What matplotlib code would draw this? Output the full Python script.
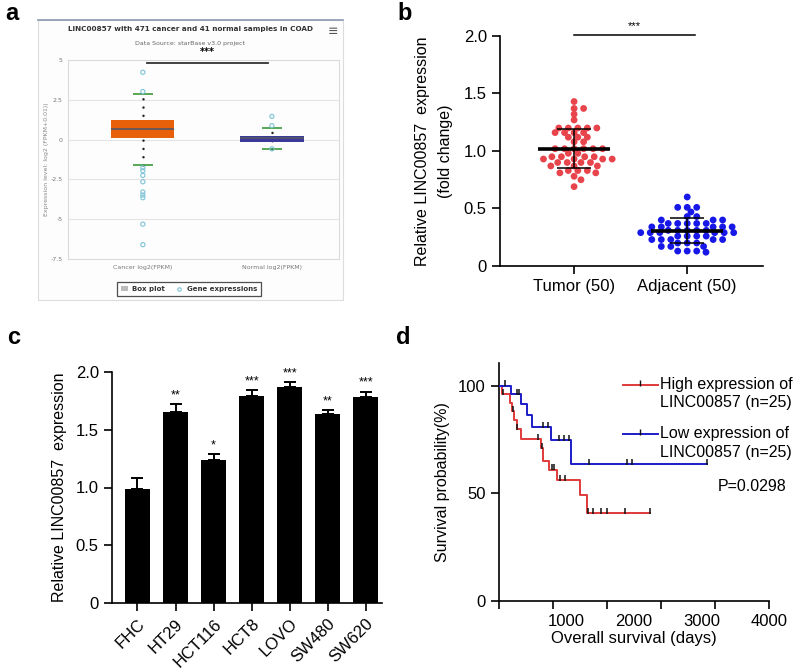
import numpy as np
import matplotlib
matplotlib.use("Agg")
import matplotlib.pyplot as plt
from matplotlib.lines import Line2D
from matplotlib.patches import Patch, Rectangle

plt.rcParams["font.family"] = ["Liberation Sans", "DejaVu Sans"]

W, H = 800, 671

# ---- panel a: starBase box plot ----
A_GROUPS = ["Cancer log2(FPKM)", "Normal log2(FPKM)"]
A_Q1 = [0.10, -0.12]
A_MED = [0.69, 0.07]
A_Q3 = [1.25, 0.25]
A_LOW = [-1.58, -0.58]
A_HIGH = [2.87, 0.73]
A_CANCER_PTS = [4.23, 3.02, -1.77, -1.96, -2.25, -2.65, -3.29, -3.48, -3.65, -5.31, -6.60]
A_NORMAL_PTS = [1.46, 0.875, -0.58]

# ---- panel b: tumor vs adjacent ----
B_GROUPS = ["Tumor (50)", "Adjacent (50)"]
B_TUMOR = [1.43, 1.37, 1.37, 1.32, 1.27,
           1.20, 1.20, 1.20, 1.20, 1.20,
           1.16, 1.16, 1.16, 1.16,
           1.12, 1.12, 1.12, 1.08, 1.08,
           1.02, 1.02, 1.02, 1.02, 1.02, 1.02,
           0.98, 0.98, 0.95, 0.95, 0.95, 0.95,
           0.93, 0.93, 0.93, 0.93,
           0.90, 0.90, 0.90, 0.90,
           0.87, 0.87, 0.87, 0.83, 0.83, 0.83,
           0.81, 0.81, 0.78, 0.75, 0.69]
B_ADJ = [0.60, 0.51, 0.51, 0.51, 0.47, 0.43, 0.43, 0.40, 0.40, 0.40,
         0.37, 0.37, 0.37, 0.37, 0.37, 0.34, 0.34, 0.34, 0.34, 0.34,
         0.31, 0.31, 0.31, 0.31, 0.31, 0.29, 0.29, 0.29, 0.29, 0.29, 0.29,
         0.26, 0.26, 0.26, 0.26, 0.23, 0.23, 0.23, 0.23, 0.23,
         0.20, 0.20, 0.20, 0.17, 0.17, 0.17, 0.13, 0.13, 0.13, 0.12]

# ---- panel c: cell lines ----
C_LINES = ["FHC", "HT29", "HCT116", "HCT8", "LOVO", "SW480", "SW620"]
C_MEAN = [0.99, 1.65, 1.24, 1.79, 1.87, 1.64, 1.78]
C_ERR = [0.09, 0.07, 0.05, 0.05, 0.04, 0.03, 0.05]
C_STARS = ["", "**", "*", "***", "***", "**", "***"]

# ---- panel d: Kaplan-Meier ----
D_HIGH_T = [0, 40, 163, 188, 227, 261, 326, 617, 645, 740, 860, 1199, 1300]
D_HIGH_S = [100, 96, 92, 88, 84, 80, 75, 71, 65, 61, 56, 49, 41]
D_HIGH_END = 2235
D_HIGH_CENS = [60, 200, 270, 572, 632, 780, 818, 903, 977, 1322, 1396, 1510, 1594, 1865, 2235]
D_LOW_T = [0, 178, 326, 420, 490, 770, 1070]
D_LOW_S = [100, 96, 91.3, 86.4, 80.7, 74.7, 63.6]
D_LOW_END = 3081
D_LOW_CENS = [89, 262, 296, 656, 730, 888, 962, 1036, 1337, 1890, 1964, 3081]


def px_axes(fig, x0, y0, x1, y1):
    return fig.add_axes([x0 / W, 1 - y1 / H, (x1 - x0) / W, (y1 - y0) / H])


def swarm(values, dx, dy):
    ys = np.asarray(values, float) / dy
    xs = np.zeros_like(ys)
    done = []
    for i in np.argsort(np.abs(ys - np.median(ys)), kind="stable"):
        cands = [0.0]
        for j in done:
            d = ys[i] - ys[j]
            if abs(d) < 1:
                s = np.sqrt(1 - d * d)
                cands += [xs[j] + s, xs[j] - s]
        cands.sort(key=abs)
        for c in cands:
            if all((c - xs[j]) ** 2 + (ys[i] - ys[j]) ** 2 >= 0.999 for j in done):
                xs[i] = c
                break
        done.append(i)
    return xs * dx


def style_prism(ax):
    for s in ["top", "right"]:
        ax.spines[s].set_visible(False)
    for s in ["left", "bottom"]:
        ax.spines[s].set_linewidth(1.2)
    ax.tick_params(direction="out", length=6, width=1.2, labelsize=12)


def panel_a(fig):
    fig.patches.append(Rectangle((38 / W, 1 - 300 / H), 305 / W, 280 / H, transform=fig.transFigure,
                                 facecolor="#fdfdfd", edgecolor="#dcdcdc", lw=0.8, zorder=-2))
    fig.lines.append(Line2D([38 / W, 343 / W], [1 - 20 / H] * 2, transform=fig.transFigure,
                            color="#8a9ab0", lw=1.2, zorder=-1))
    ax = px_axes(fig, 68, 60, 339, 259)
    ax.patch.set_alpha(0)
    x = np.arange(len(A_GROUPS))
    ax.set_xlim(-0.58, 1.52)
    ax.set_ylim(-7.5, 5)
    ax.set_yticks([5, 2.5, 0, -2.5, -5, -7.5])
    ax.set_yticklabels(["5", "2.5", "0", "-2.5", "-5", "-7.5"])
    ax.grid(axis="y", color="#e4e4e4", lw=0.8)
    ax.set_axisbelow(True)
    for s in ax.spines.values():
        s.set_color("#dadada")
        s.set_linewidth(0.8)
    ax.tick_params(length=0, labelsize=4.5, labelcolor="#777777", pad=4)
    ax.set_xticks(x)
    ax.set_xticklabels(A_GROUPS, family="DejaVu Sans")
    for lab in ax.get_yticklabels():
        lab.set_family("DejaVu Sans")

    colors = ["#e8600a", "#3a3a9c"]
    q1, q3 = np.array(A_Q1), np.array(A_Q3)
    ax.vlines(x, A_LOW, A_HIGH, colors="#222222", lw=1.8, linestyles=(0, (0.01, 3.3)),
              capstyle="round", zorder=2)
    ax.bar(x, q3 - q1, bottom=q1, width=0.49, color=colors, zorder=3)
    ax.hlines(A_MED, x - 0.245, x + 0.245, colors="#555566", lw=1.2, zorder=4)
    ax.hlines(A_LOW + A_HIGH, np.tile(x, 2) - 0.075, np.tile(x, 2) + 0.075,
              colors="#3a9a3a", lw=1.2, zorder=5)
    ax.scatter([0] * len(A_CANCER_PTS), A_CANCER_PTS, s=9, facecolors="none",
               edgecolors="#7cc3d6", lw=0.8, zorder=6)
    ax.scatter([1] * len(A_NORMAL_PTS), A_NORMAL_PTS, s=9, facecolors="none",
               edgecolors="#7cc3d6", lw=0.8, zorder=6)
    ax.plot([0.03, 0.97], [4.79, 4.79], color="#333333", lw=1.3, clip_on=False)
    ax.text(0.5, 5.2, "***", ha="center", va="bottom", fontsize=7, fontweight="bold",
            family="DejaVu Sans", clip_on=False)
    ax.set_ylabel("Expression level: log2 (FPKM+0.01))", fontsize=4.5, color="#888888",
                  family="DejaVu Sans", labelpad=1)

    fig.text(190 / W, 1 - 29 / H, "LINC00857 with 471 cancer and 41 normal samples in COAD",
             ha="center", va="center", fontsize=5.2, fontweight="bold", color="#333333",
             family="DejaVu Sans")
    fig.text(190 / W, 1 - 43 / H, "Data Source: starBase v3.0 project", ha="center",
             va="center", fontsize=4.5, color="#666666", family="DejaVu Sans")
    fig.text(333 / W, 1 - 31 / H, "\u2261", ha="center", va="center", fontsize=9,
             color="#555555", family="DejaVu Sans")
    handles = [Patch(facecolor="#bbbbbb", edgecolor="none"),
               Line2D([], [], ls="none", marker="o", ms=2.5, mfc="none", mec="#7cc3d6", mew=0.8)]
    leg = fig.legend(handles, ["Box plot", "Gene expressions"], ncol=2,
                     loc="center", bbox_to_anchor=(189 / W, 1 - 289 / H),
                     prop={"family": "DejaVu Sans", "weight": "bold", "size": 5},
                     frameon=True, fancybox=False, handlelength=1.0, handleheight=0.8,
                     columnspacing=1.6, handletextpad=0.6, borderpad=0.5)
    leg.get_frame().set_edgecolor("#222222")
    leg.get_frame().set_linewidth(0.9)
    for t in leg.get_texts():
        t.set_color("#333333")


def panel_b(fig):
    ax = px_axes(fig, 500, 36, 763, 266)
    style_prism(ax)
    ax.set_xlim(-0.655, 1.67)
    ax.set_ylim(0, 2.0)
    ax.set_yticks([0, 0.5, 1.0, 1.5, 2.0])
    ax.set_yticklabels(["0", "0.5", "1.0", "1.5", "2.0"])
    ax.set_xticks([0, 1])
    ax.set_xticklabels(B_GROUPS)
    for i, (vals, col) in enumerate([(B_TUMOR, "#e8444c"), (B_ADJ, "#1717e8")]):
        off = swarm(vals, 9.5 / 113, 5.0 / 115)
        ax.scatter(i + off, vals, s=24, color=col, edgecolors="none", zorder=3)
        m, sd = np.mean(vals), np.std(vals, ddof=1)
        ax.hlines(m, i - 0.32, i + 0.32, colors="black", lw=2.6, zorder=4)
        ax.hlines([m - sd, m + sd], i - 0.15, i + 0.15, colors="black", lw=1.1, zorder=4)
        ax.vlines(i, m - sd, m + sd, colors="black", lw=1.1, zorder=4)
    ax.plot([0, 1.07], [2.01, 2.01], color="black", lw=1.1, clip_on=False)
    ax.text(0.53, 2.04, "***", ha="center", va="bottom", fontsize=8, clip_on=False)
    ax.set_ylabel("Relative LINC00857  expression\n(fold change)", fontsize=11.5,
                  linespacing=1.6, labelpad=8)


def panel_c(fig):
    ax = px_axes(fig, 112, 372, 382, 603)
    style_prism(ax)
    x = np.arange(len(C_LINES))
    ax.set_xlim(-0.67, 6.43)
    ax.set_ylim(0, 2.0)
    ax.set_yticks([0, 0.5, 1.0, 1.5, 2.0])
    ax.set_yticklabels(["0", "0.5", "1.0", "1.5", "2.0"])
    ax.bar(x, C_MEAN, width=0.66, color="black", zorder=2)
    ax.errorbar(x, C_MEAN, yerr=[np.zeros(len(x)), C_ERR], fmt="none", ecolor="black",
                elinewidth=1.4, capsize=4.2, capthick=1.4, zorder=1)
    tops = np.array(C_MEAN) + np.array(C_ERR)
    for xi, t, s in zip(x, tops, C_STARS):
        ax.text(xi, t + 0.025, s, ha="center", va="bottom", fontsize=9)
    ax.set_xticks(x)
    ax.set_xticklabels(C_LINES, rotation=45, ha="right", rotation_mode="anchor")
    ax.set_ylabel("Relative LINC00857  expression", fontsize=11.5, labelpad=6)


def panel_d(fig):
    ax = px_axes(fig, 499, 363, 769, 601)
    style_prism(ax)
    ax.set_xlim(0, 4000)
    ax.set_ylim(0, 110.5)
    ax.set_yticks([0, 50, 100])
    ax.set_xticks(np.arange(0, 4001, 800))
    ax.set_xticklabels([])
    ax.xaxis.remove_overlapping_locs = False
    ax.set_xticks([1000, 2000, 3000, 4000], minor=True)
    ax.set_xticklabels(["1000", "2000", "3000", "4000"], minor=True)
    ax.tick_params(axis="x", which="minor", length=0, labelsize=12, pad=9)
    curves = [(D_HIGH_T, D_HIGH_S, D_HIGH_END, D_HIGH_CENS, "#e03a3a"),
              (D_LOW_T, D_LOW_S, D_LOW_END, D_LOW_CENS, "#1c1cc8")]
    for t, s, end, cens, col in curves:
        ax.step(list(t) + [end], list(s) + [s[-1]], where="post", color=col, lw=1.4, zorder=3)
        idx = np.searchsorted(t, cens, side="right") - 1
        ax.plot(cens, np.array(s)[idx] + 1.0, ls="none", marker="|", ms=5, mew=1.1,
                color="#111111", zorder=4)
    ax.set_xlabel("Overall survival (days)", fontsize=12, labelpad=2)
    ax.set_ylabel("Survival probability(%)", fontsize=11.5, labelpad=6)

    for col, y1, y2, lab in [("#e03a3a", 0.908, 0.832, "High expression of"),
                             ("#1c1cc8", 0.702, 0.626, "Low expression of")]:
        ax.plot([0.459, 0.588], [y1, y1], color=col, lw=1.4, transform=ax.transAxes, clip_on=False)
        ax.plot([0.5235], [y1 + 0.01], marker="|", ms=4, mew=1.0, color="#111111",
                transform=ax.transAxes, clip_on=False)
        ax.text(0.597, y1, lab, fontsize=11.5, va="center", transform=ax.transAxes)
        ax.text(0.597, y2, "LINC00857 (n=25)", fontsize=11.5, va="center", transform=ax.transAxes)
    ax.text(1.066, 0.483, "P=0.0298", fontsize=11.5, ha="right", va="center", transform=ax.transAxes)


def main():
    fig = plt.figure(figsize=(W / 100, H / 100), dpi=100)
    panel_a(fig)
    panel_b(fig)
    panel_c(fig)
    panel_d(fig)
    for lab, x, y in [("a", 12, 14), ("b", 405, 14), ("c", 14, 337), ("d", 403, 337)]:
        fig.text(x / W, 1 - y / H, lab, fontsize=17, fontweight="bold", ha="center", va="center")
    fig.savefig("out.png", dpi=100)


if __name__ == "__main__":
    main()
